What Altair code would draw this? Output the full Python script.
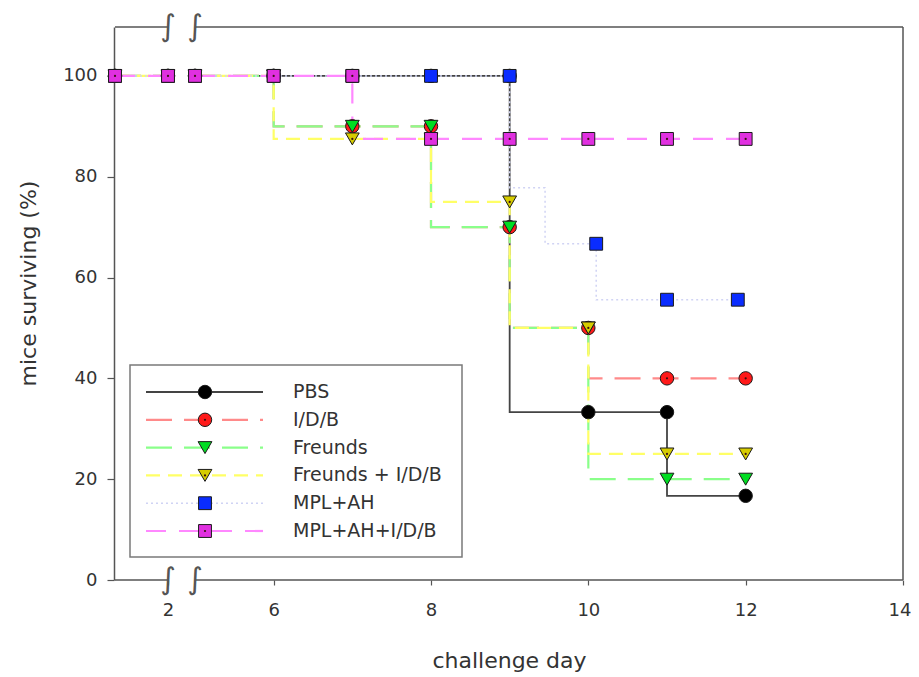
import altair as alt
import pandas as pd

# ---------------- data ----------------
series_names = ["PBS", "I/D/B", "Freunds", "Freunds + I/D/B", "MPL+AH", "MPL+AH+I/D/B"]

days_std = [0, 2, 5, 6, 7, 8, 9, 10, 11, 12]
surv_pbs = [100, 100, 100, 100, 100, 100, 100, 33.3, 33.3, 16.7]
surv_idb = [100, 100, 100, 100, 90, 90, 70, 50, 40, 40]
surv_freunds = [100, 100, 100, 100, 90, 90, 70, 50, 20, 20]
surv_freunds_idb = [100, 100, 100, 100, 87.5, 87.5, 75, 50, 25, 25]
days_mpl = [0, 2, 5, 6, 7, 8, 9, 9.45, 10.1, 11, 11.9]
surv_mpl = [100, 100, 100, 100, 100, 100, 100, 77.8, 66.7, 55.6, 55.6]
marker_mpl = [True, True, True, True, True, True, True, False, True, True, True]
surv_mpl_idb = [100, 100, 100, 100, 100, 87.5, 87.5, 87.5, 87.5, 87.5]

x_ticks = [2, 6, 8, 10, 12, 14]
y_ticks = [0, 20, 40, 60, 80, 100]
break_days = [2, 5]

days_by_series = [days_std, days_std, days_std, days_std, days_mpl, days_std]
surv_by_series = [surv_pbs, surv_idb, surv_freunds, surv_freunds_idb, surv_mpl, surv_mpl_idb]
marker_by_series = [[True] * len(days_std)] * 4 + [marker_mpl, [True] * len(days_std)]

rows = []
for name, ds, vs, ms in zip(series_names, days_by_series, surv_by_series, marker_by_series):
    for d, v, m in zip(ds, vs, ms):
        rows.append({"series": name, "day": d, "surv": v, "marker": m,
                     "seg": "early" if d <= break_days[0] else "late"})
df = pd.DataFrame(rows)

frame_df = pd.DataFrame({"start": [0, break_days[1]], "end": [break_days[0], 14]})
break_df = pd.DataFrame({"day": break_days})

# ---------------- styles ----------------
FONT = "DejaVu Sans"
TXT = "#333333"
AX = "#555555"
styles = {
    "PBS": dict(line="#444444", width=1.8, dash=None, shape="circle", size=180, fill="#000000", dot=False),
    "I/D/B": dict(line="#ff8a8a", width=2.2, dash=[26, 12], shape="circle", size=180, fill="#ff1a1a", dot=True),
    "Freunds": dict(line="#8aff8a", width=2.2, dash=[26, 12], shape="triangle-down", size=190, fill="#00dd22", dot=False),
    "Freunds + I/D/B": dict(line="#ffff66", width=2.2, dash=[14, 8], shape="triangle-down", size=190, fill="#d6cc00", dot=True),
    "MPL+AH": dict(line="#d0d3f4", width=1.5, dash=[2, 3], shape="square", size=165, fill="#0a2cff", dot=False),
    "MPL+AH+I/D/B": dict(line="#ff88ff", width=2.2, dash=[20, 13], shape="square", size=165, fill="#e030e0", dot=True),
}

W, H = 789, 553
xs = alt.Scale(domain=[0, 2, 5, 14], range=[1, 54, 81, W], zero=False, nice=False)
ys = alt.Scale(domain=[0, 109.7], zero=False, nice=False)

x_axis = alt.Axis(values=x_ticks, title="challenge day", domain=False, grid=False,
                  tickSize=5, tickColor=AX, tickWidth=1.2, labelFont=FONT, labelFontSize=18,
                  labelColor=TXT, labelPadding=16, labelFlush=True, labelFlushOffset=8,
                  labelOverlap=False,
                  titleFont=FONT, titleFontSize=22, titleFontWeight="normal", titleColor=TXT,
                  titleY=80, titleBaseline="middle")
y_axis = alt.Axis(values=y_ticks, title="mice surviving (%)", domain=True, domainColor=AX,
                  domainWidth=1.5, grid=False, tickSize=7, tickColor=AX, tickWidth=1.2,
                  labelFont=FONT, labelFontSize=18, labelColor=TXT, labelPadding=10,
                  labelFlush=False, labelOverlap=False,
                  titleFont=FONT, titleFontSize=22, titleFontWeight="normal", titleColor=TXT,
                  titleX=-86, titleY=256, titleAngle=-90, titleBaseline="middle", titleAlign="center")


def X(field):
    return alt.X(field, type="quantitative", scale=xs, axis=x_axis)


def Y(field):
    return alt.Y(field, type="quantitative", scale=ys, axis=y_axis)


layers = []

# survival step lines (first, so they carry both axes)
for name in series_names:
    st = styles[name]
    kw = dict(interpolate="step-before", color=st["line"], strokeWidth=st["width"])
    if st["dash"]:
        kw["strokeDash"] = st["dash"]
    layers.append(alt.Chart(df).transform_filter(alt.datum.series == name).mark_line(**kw).encode(
        x=X("day"), y=Y("surv"), detail="seg:N"))

# frame: top & bottom lines with break, right line
layers.append(alt.Chart(frame_df).mark_rule(color=AX, strokeWidth=1.5).encode(
    x=X("start"), x2="end:Q", y=alt.value(H)))
layers.append(alt.Chart(frame_df).mark_rule(color=AX, strokeWidth=1.5).encode(
    x=X("start"), x2="end:Q", y=alt.value(0)))
layers.append(alt.Chart(pd.DataFrame({"k": [0]})).mark_rule(color=AX, strokeWidth=1.5).encode(
    x=alt.value(W), y=alt.value(0), y2=alt.value(H)))

# markers
for name in series_names:
    st = styles[name]
    base = alt.Chart(df).transform_filter((alt.datum.series == name) & alt.datum.marker)
    layers.append(base.mark_point(shape=st["shape"], size=st["size"], filled=True, fill=st["fill"],
                                  stroke="#1a1a1a", strokeWidth=1, opacity=1).encode(
        x=X("day"), y=Y("surv")))
    if st["dot"]:
        layers.append(base.mark_point(shape="circle", size=5, filled=True, color="#3a1010", opacity=1).encode(
            x=X("day"), y=Y("surv")))

# axis break marks
for yv in [0, H]:
    layers.append(alt.Chart(break_df).mark_text(text="\u222b", font=FONT, fontSize=30, color=AX,
                                                baseline="middle", align="center").encode(
        x=X("day"), y=alt.value(yv)))

# legend
layers.append(alt.Chart(pd.DataFrame({"k": [0]})).mark_rect(fill="white", stroke="#7a7a7a", strokeWidth=1.5).encode(
    x=alt.value(16), x2=alt.value(348), y=alt.value(338), y2=alt.value(530)))
for i, name in enumerate(series_names):
    st = styles[name]
    yy = 365 + i * 27.8
    one = alt.Chart(pd.DataFrame({"series": [name]}))
    kw = dict(color=st["line"], strokeWidth=st["width"])
    if st["dash"]:
        kw["strokeDash"] = st["dash"]
    layers.append(one.mark_rule(**kw).encode(x=alt.value(32), x2=alt.value(149), y=alt.value(yy)))
    layers.append(one.mark_point(shape=st["shape"], size=st["size"], filled=True, fill=st["fill"],
                                 stroke="#1a1a1a", strokeWidth=1, opacity=1).encode(
        x=alt.value(91), y=alt.value(yy)))
    if st["dot"]:
        layers.append(one.mark_point(shape="circle", size=5, filled=True, color="#3a1010", opacity=1).encode(
            x=alt.value(91), y=alt.value(yy)))
    layers.append(one.mark_text(align="left", baseline="middle", font=FONT, fontSize=19, color=TXT).encode(
        x=alt.value(179), y=alt.value(yy), text="series:N"))

chart = alt.layer(*layers).properties(
    width=W, height=H,
    padding={"left": 106, "top": 19, "right": 8, "bottom": 96},
    autosize=alt.AutoSizeParams(type="none"),
).configure_view(stroke=None)

chart.save("out.html", embed_options={"renderer": "svg", "actions": False})
